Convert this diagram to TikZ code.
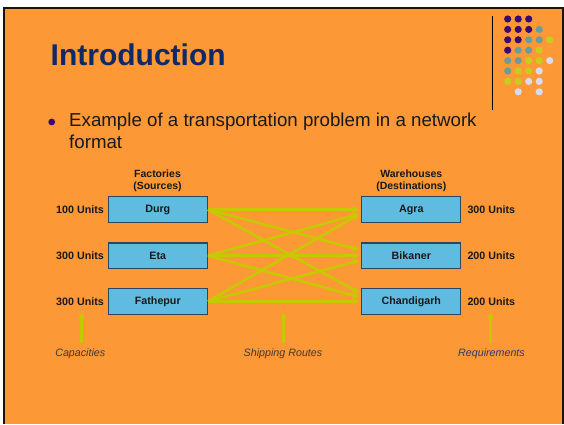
\documentclass[tikz,border=0pt]{standalone}
\usepackage{fontspec}
\setmainfont{Liberation Sans}
\usetikzlibrary{arrows.meta,calc}
\definecolor{orangebg}{RGB}{253,152,54}
\definecolor{framecol}{RGB}{30,18,5}
\definecolor{titlecol}{RGB}{12,42,106}
\definecolor{boxfill}{RGB}{95,188,224}
\definecolor{boxline}{RGB}{45,70,95}
\definecolor{routecol}{RGB}{200,200,0}
\definecolor{dpurple}{RGB}{58,10,110}
\definecolor{dteal}{RGB}{106,156,156}
\definecolor{dyellow}{RGB}{200,204,26}
\definecolor{dlav}{RGB}{218,218,240}
\definecolor{txtcol}{RGB}{25,25,25}
\definecolor{reqcol}{RGB}{46,58,110}
\tikzset{
  box/.style={draw=boxline,line width=1.2pt,fill=boxfill,minimum width=99pt,minimum height=25.6pt,inner sep=0pt,
    font=\fontsize{10.7}{12}\selectfont\bfseries,text=txtcol},
  unitlbl/.style={font=\fontsize{10.7}{12}\selectfont\bfseries,text=txtcol,inner sep=0pt},
  headlbl/.style={font=\fontsize{10.5}{12}\selectfont\bfseries,text=txtcol,inner sep=0pt,align=center},
  itlbl/.style={font=\fontsize{10.7}{12}\selectfont\itshape,text=txtcol!85,inner sep=0pt},
  route/.style={draw=routecol,line width=2.6pt,-{Triangle[length=6pt,width=6pt]}}
}
\begin{document}
\begin{tikzpicture}[x=1pt,y=-1pt]
\useasboundingbox (0,0) rectangle (564,424);
\fill[white] (0,0) rectangle (564,424);
\fill[orangebg] (4,8) rectangle (563,424);
\draw[framecol,line width=2pt] (4,424) -- (4,8) -- (563,8) -- (563,424);

% title
\node[anchor=base west,inner sep=0pt,font=\fontsize{30}{34}\selectfont\bfseries,text=titlecol] (title) at (50.5,65) {Introduction};

% logo line and dots
\draw[black,line width=1pt] (492.3,16) -- (492.3,110);
\foreach \c/\r/\col in {0/0/dpurple,1/0/dpurple,2/0/dpurple,
  0/1/dpurple,1/1/dpurple,2/1/dpurple,3/1/dteal,
  0/2/dpurple,1/2/dpurple,2/2/dteal,3/2/dteal,4/2/dyellow,
  0/3/dpurple,1/3/dteal,2/3/dteal,3/3/dyellow,
  0/4/dteal,1/4/dteal,2/4/dyellow,3/4/dyellow,4/4/dlav,
  0/5/dteal,1/5/dyellow,2/5/dyellow,3/5/dlav,
  0/6/dyellow,1/6/dyellow,2/6/dlav,3/6/dlav,
  1/7/dlav,3/7/dlav}
  \fill[\col] ({507.7+10.5*\c},{19+10.4*\r}) circle[radius=3.6pt];

% bullet
\fill[dpurple] (51.7,122) circle[radius=3.4pt];
\node[anchor=base west,inner sep=0pt,font=\fontsize{18.7}{22}\selectfont,text=txtcol] (b1) at (69,126.7) {Example of a transportation problem in a network};
\node[anchor=base west,inner sep=0pt,font=\fontsize{18.7}{22}\selectfont,text=txtcol] (b2) at (69,148.7) {format};

% headers
\node[headlbl] (fhead) at (157.5,181) {Factories\\(Sources)};
\node[headlbl] (whead) at (411.3,181) {Warehouses\\(Destinations)};

% boxes
\node[box] (durg) at (157.8,209.5) {Durg};
\node[box] (eta) at (157.8,255.7) {Eta};
\node[box] (fat) at (157.8,301.3) {Fathepur};
\node[box] (agra) at (411.3,209.5) {Agra};
\node[box] (bik) at (411.3,255.7) {Bikaner};
\node[box] (chan) at (411.3,301.3) {Chandigarh};

% unit labels
\node[unitlbl,anchor=base east] (u1) at (104,213.4) {100 Units};
\node[unitlbl,anchor=base east] (u2) at (104,259.6) {300 Units};
\node[unitlbl,anchor=base east] (u3) at (104,305.2) {300 Units};
\node[unitlbl,anchor=base west] (u4) at (467.3,213.4) {300 Units};
\node[unitlbl,anchor=base west] (u5) at (467.3,259.6) {200 Units};
\node[unitlbl,anchor=base west] (u6) at (467.3,305.2) {200 Units};

% routes
\draw[route] (durg.east) -- ($(agra.west)+(-2,0)$);
\draw[route] (durg.east) -- ($(bik.west)+(-2,-6)$);
\draw[route] (durg.east) -- ($(chan.west)+(-2,-8.6)$);
\draw[route] (eta.east) -- ($(agra.west)+(-2,4.5)$);
\draw[route] (eta.east) -- ($(bik.west)+(-2,0)$);
\draw[route] (eta.east) -- ($(chan.west)+(-2,-4.3)$);
\draw[route] (fat.east) -- ($(agra.west)+(-2,4.8)$);
\draw[route] (fat.east) -- ($(bik.west)+(-2,4.8)$);
\draw[route] (fat.east) -- ($(chan.west)+(-2,0)$);

% bottom labels and arrows
\node[itlbl] (cap) at (80.3,354) {Capacities};
\node[itlbl] (ship) at (283,354) {Shipping Routes};
\node[itlbl,text=reqcol] (req) at (491.5,354) {Requirements};
\coordinate (capb) at (81.7,343);
\coordinate (capt) at (81.7,312.5);
\coordinate (shipb) at (283.5,343);
\coordinate (shipt) at (283.5,312.5);
\coordinate (reqb) at (490.7,343);
\coordinate (reqt) at (490.7,312.5);
\draw[route] (capb) -- (capt);
\draw[route] (shipb) -- (shipt);
\draw[route] (reqb) -- (reqt);
\end{tikzpicture}
\end{document}
